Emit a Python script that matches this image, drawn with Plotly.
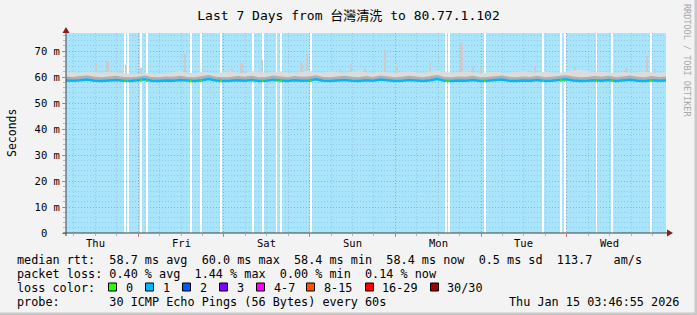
import pandas as pd
import plotly.graph_objects as go

# ---------------- data ----------------
start = pd.Timestamp("2026-01-08 03:46:55")
end = pd.Timestamp("2026-01-15 03:46:55")

# 2-hour samples over the 7 days
sample_times = pd.date_range(start, periods=85, freq="2h")

rtt_median = [58.7, 58.6, 58.8, 59.1, 58.6, 58.5, 58.7, 58.9, 58.6, 58.5,
              58.8, 59.2, 58.6, 58.5, 58.7, 58.6, 58.9, 58.6, 58.5, 58.8,
              59.3, 58.7, 58.5, 58.6, 58.8, 58.6, 58.9, 58.5, 58.6, 59.0,
              58.7, 58.5, 58.8, 58.6, 58.7, 59.2, 58.6, 58.5, 58.7, 58.9,
              58.6, 58.5, 58.8, 58.6, 59.1, 58.7, 58.5, 58.6, 58.9, 58.7,
              58.5, 58.8, 59.3, 58.6, 58.5, 58.7, 58.6, 58.9, 58.5, 58.6,
              58.8, 59.1, 58.6, 58.5, 58.7, 58.6, 58.9, 58.5, 58.6, 58.8,
              59.2, 58.7, 58.5, 58.6, 58.8, 58.6, 58.9, 58.5, 58.7, 59.0,
              58.6, 58.5, 58.8, 58.6, 58.7]

smoke_dark = [60.3, 60.1, 60.4, 60.6, 60.2, 60.0, 60.3, 60.5, 60.1, 60.0,
              60.2, 60.6, 60.1, 60.0, 60.3, 60.2, 60.5, 60.1, 60.0, 60.4,
              60.8, 60.2, 60.0, 60.1, 60.4, 60.2, 60.5, 60.0, 60.1, 60.6,
              60.3, 60.0, 60.4, 60.2, 60.3, 60.7, 60.1, 60.0, 60.3, 60.5,
              60.2, 60.0, 60.4, 60.1, 60.6, 60.3, 60.0, 60.2, 60.5, 60.3,
              60.0, 60.4, 60.8, 60.1, 60.0, 60.3, 60.2, 60.5, 60.0, 60.1,
              60.4, 60.6, 60.2, 60.0, 60.3, 60.1, 60.5, 60.0, 60.2, 60.4,
              60.7, 60.3, 60.0, 60.1, 60.4, 60.2, 60.5, 60.0, 60.3, 60.6,
              60.2, 60.0, 60.4, 60.1, 60.3]

smoke_top = [61.8, 62.0, 61.6, 62.2, 61.9, 61.5, 62.1, 61.8, 61.4, 61.2,
             61.0, 61.5, 61.3, 61.1, 61.6, 61.9, 62.3, 61.7, 61.5, 62.0,
             61.8, 61.4, 61.9, 62.2, 61.6, 61.5, 62.4, 62.0, 61.7, 61.9,
             62.3, 61.8, 61.6, 62.1, 62.5, 61.9, 61.7, 62.2, 61.8, 61.6,
             62.0, 62.4, 61.9, 61.7, 62.1, 61.8, 61.5, 62.0, 62.3, 61.8,
             61.6, 62.2, 62.6, 62.0, 61.7, 61.9, 62.2, 61.8, 61.5, 61.9,
             62.1, 61.7, 61.6, 62.0, 62.3, 61.9, 61.7, 62.1, 61.8, 61.6,
             62.2, 62.5, 62.8, 62.4, 61.9, 62.1, 61.8, 61.6, 62.0, 61.7,
             61.9, 62.2, 61.8, 61.6, 61.9]

# isolated smoke spikes (hours after start, top value in ms)
spike_hours = [2.5, 8.4, 11.7, 15.1, 16.8, 21.0, 33.3, 46.5, 49.2, 54.9,
               66.0, 67.5, 76.7, 79.8, 83.7, 89.3, 92.6, 101.9, 110.8, 114.0,
               116.2, 131.3, 141.1, 142.5, 157.0, 162.8, 164.9]
spike_top = [62.3, 65.5, 66.1, 62.9, 64.5, 63.5, 68.8, 63.5, 65.5, 66.5,
             65.3, 69.0, 63.2, 65.0, 63.7, 70.5, 64.2, 65.5, 73.0, 64.2,
             63.5, 64.2, 62.5, 64.0, 63.6, 68.1, 63.0]

# periods with zero packet loss (hours after start, duration in hours, median rtt)
zero_loss_start_h = [16.24, 17.08, 20.72, 22.40, 34.72, 37.52, 43.12, 52.28,
                     54.88, 58.80, 59.92, 68.32, 106.32, 107.04, 117.04,
                     133.48, 138.32, 139.44, 148.40, 152.80, 163.52]
zero_loss_width_h = [0.42, 0.36, 0.56, 0.56, 0.48, 0.56, 0.56, 0.36,
                     0.36, 0.28, 0.48, 0.48, 0.45, 0.28, 0.48,
                     0.36, 0.64, 0.42, 0.28, 0.36, 0.64]
zero_loss_rtt = [58.6, 58.6, 58.7, 58.6, 58.5, 58.6, 58.6, 58.5,
                 58.6, 58.6, 58.5, 58.6, 58.7, 58.6, 58.6,
                 58.6, 58.7, 58.6, 58.6, 58.6, 58.6]

days = ["Thu", "Fri", "Sat", "Sun", "Mon", "Tue", "Wed"]
day_noons = pd.date_range("2026-01-08 12:00", periods=7, freq="D")
midnights = pd.date_range("2026-01-09 00:00", periods=6, freq="D")

y_tick_vals = [0, 10, 20, 30, 40, 50, 60, 70]
y_tick_text = ["0  ", "10 m", "20 m", "30 m", "40 m", "50 m", "60 m", "70 m"]
y_top = 77

loss_labels = ["0", "1", "2", "3", "4-7", "8-15", "16-29", "30/30"]
loss_colors = ["#26ff00", "#00b8ff", "#0059ff", "#7e00ff", "#ff00ff", "#ff5500", "#ff0000", "#a10000"]

legend_lines = [
    "median rtt:  58.7 ms avg  60.0 ms max  58.4 ms min  58.4 ms now  0.5 ms sd  113.7   am/s",
    "packet loss: 0.40 % avg  1.44 % max  0.00 % min  0.14 % now",
    "loss color:",
    "probe:       30 ICMP Echo Pings (56 Bytes) every 60s",
]
stamp = "Thu Jan 15 03:46:55 2026"
title = "Last 7 Days from 台灣清洗 to 80.77.1.102"

# ---------------- layout helpers ----------------
L, R, T, B = 66, 666, 33, 233
W, H = 697, 315


def px(x):
    return (x - L) / (R - L)


def py(y):
    return (B - y) / (B - T)


def nb(s):
    return s.replace(" ", "\u00a0")


MONO = "DejaVu Sans Mono"
BLUE_BG = "#a8e4fb"

fig = go.Figure()

# zero-loss periods: background is white there
gap_x = [start + pd.Timedelta(hours=h + w / 2) for h, w in zip(zero_loss_start_h, zero_loss_width_h)]
gap_w = [w * 3600 * 1000 for w in zero_loss_width_h]
fig.add_trace(go.Bar(x=gap_x, y=[y_top] * len(gap_x), width=gap_w, base=0,
                     marker=dict(color="white", line=dict(width=0)), hoverinfo="skip"))

# smoke: light band
fig.add_trace(go.Scatter(x=sample_times, y=rtt_median, mode="lines",
                         line=dict(width=0, color="rgba(0,0,0,0)"), hoverinfo="skip"))
fig.add_trace(go.Scatter(x=sample_times, y=smoke_top, mode="lines", fill="tonexty",
                         fillcolor="#dcdcdc", line=dict(width=0, color="#dcdcdc"), hoverinfo="skip"))
# smoke: darker band
fig.add_trace(go.Scatter(x=sample_times, y=rtt_median, mode="lines",
                         line=dict(width=0, color="rgba(0,0,0,0)"), hoverinfo="skip"))
fig.add_trace(go.Scatter(x=sample_times, y=smoke_dark, mode="lines", fill="tonexty",
                         fillcolor="#b0b0b0", line=dict(width=0, color="#b0b0b0"), hoverinfo="skip"))

# spikes
spike_x = [start + pd.Timedelta(hours=h) for h in spike_hours]
fig.add_trace(go.Bar(x=spike_x, y=[v - 60.5 for v in spike_top], base=60.5,
                     width=0.5 * 3600 * 1000,
                     marker=dict(color="#cbcbcb", line=dict(width=0)), hoverinfo="skip"))

# median line (loss 1 colour)
fig.add_trace(go.Scatter(x=sample_times, y=rtt_median, mode="lines",
                         line=dict(width=2.5, color=loss_colors[1]), hoverinfo="skip"))

# median segments with zero loss (green)
gx, gy = [], []
for h, w, v in zip(zero_loss_start_h, zero_loss_width_h, zero_loss_rtt):
    gx += [start + pd.Timedelta(hours=h), start + pd.Timedelta(hours=h + w), None]
    gy += [v, v, None]
fig.add_trace(go.Scatter(x=gx, y=gy, mode="lines",
                         line=dict(width=2.5, color=loss_colors[0]), hoverinfo="skip"))

MGRID = "rgba(220,60,90,0.28)"
GRID = "rgba(110,120,140,0.25)"

fig.update_layout(
    width=W, height=H,
    margin=dict(l=L, r=W - R, t=T, b=H - B),
    paper_bgcolor="#f3f3f3",
    plot_bgcolor=BLUE_BG,
    showlegend=False,
    barmode="overlay",
    bargap=0,
    font=dict(family=MONO, size=11, color="#000"),
    title=dict(text=title, x=0.5, xanchor="center", y=1 - 15 / H, yanchor="middle",
               font=dict(family=MONO + ", Noto Sans CJK TC", size=13, color="#000")),
    xaxis=dict(
        type="date", range=[start, end], showline=False, zeroline=False,
        tickvals=list(midnights), ticktext=[""] * len(midnights),
        showgrid=True, gridcolor=MGRID, griddash="1px,2px", gridwidth=1,
        ticks="outside", ticklen=3, tickcolor="rgba(220,60,80,0.6)",
        minor=dict(tick0="2026-01-08 00:00", dtick=6 * 3600 * 1000, showgrid=True,
                   gridcolor=GRID, griddash="1px,2px", gridwidth=1,
                   ticks="outside", ticklen=2, tickcolor="rgba(120,120,120,0.5)"),
    ),
    yaxis=dict(
        range=[0, y_top], showline=False, zeroline=False,
        tickvals=y_tick_vals, ticktext=[nb(t) for t in y_tick_text],
        tickfont=dict(family=MONO, size=10.5, color="#000"),
        showgrid=True, gridcolor=MGRID, griddash="1px,2px", gridwidth=1,
        ticks="outside", ticklen=3, tickcolor="rgba(220,60,80,0.6)",
        minor=dict(dtick=2, showgrid=True, gridcolor=GRID, griddash="1px,2px", gridwidth=1,
                   ticks="outside", ticklen=2, tickcolor="rgba(120,120,120,0.5)"),
    ),
)

shapes = []
# axes lines
shapes.append(dict(type="line", xref="paper", yref="paper", x0=px(63), x1=px(668), y0=0, y1=0,
                   line=dict(color="#404040", width=1), layer="above"))
shapes.append(dict(type="line", xref="paper", yref="paper", x0=0, x1=0, y0=py(236), y1=py(31),
                   line=dict(color="#404040", width=1), layer="above"))
# arrows
ARW = "#8e1a1a"
shapes.append(dict(type="path", xref="paper", yref="paper",
                   path=f"M {px(667)} {py(229.5)} L {px(673)} {py(233)} L {px(667)} {py(236.5)} Z",
                   fillcolor=ARW, line=dict(color=ARW, width=0), layer="above"))
shapes.append(dict(type="path", xref="paper", yref="paper",
                   path=f"M {px(62.5)} {py(33)} L {px(66)} {py(27)} L {px(69.5)} {py(33)} Z",
                   fillcolor=ARW, line=dict(color=ARW, width=0), layer="above"))
# 3D frame of the canvas
shapes.append(dict(type="rect", xref="paper", yref="paper", x0=px(694.5), x1=px(697), y0=py(0), y1=py(315),
                   fillcolor="#c8c8c8", line=dict(width=0), layer="above"))
shapes.append(dict(type="rect", xref="paper", yref="paper", x0=px(0), x1=px(697), y0=py(312.5), y1=py(315),
                   fillcolor="#c8c8c8", line=dict(width=0), layer="above"))

# loss colour boxes
box_x = [108.5, 145.5, 182.5, 219.5, 256.5, 306.5, 365.5, 430.5]
lab_x = [123.5, 160.5, 197.5, 234.5, 271.5, 321.5, 380.0, 444.5]
for bx, col in zip(box_x, loss_colors):
    shapes.append(dict(type="rect", xref="paper", yref="paper",
                       x0=px(bx), x1=px(bx + 8), y0=py(283), y1=py(291),
                       fillcolor=col, line=dict(color="#000", width=1), layer="above"))
fig.update_layout(shapes=shapes)

ann = []
for d, t in zip(days, day_noons):
    ann.append(dict(x=t, y=py(242.5), xref="x", yref="paper", text=d, showarrow=False,
                    xanchor="center", yanchor="middle", font=dict(family=MONO, size=10.5, color="#000")))
ann.append(dict(x=px(12), y=py(133), xref="paper", yref="paper", text="Seconds", textangle=-90,
                showarrow=False, xanchor="center", yanchor="middle",
                font=dict(family=MONO, size=11.5, color="#000")))
ann.append(dict(x=px(687), y=py(60), xref="paper", yref="paper", text=nb("RRDTOOL / TOBI OETIKER"),
                textangle=90, showarrow=False, xanchor="center", yanchor="middle",
                font=dict(family=MONO, size=8.5, color="#a8a8a8")))
line_y = [259.5, 273.5, 287.5, 301.5]
for txt, yy in zip(legend_lines, line_y):
    ann.append(dict(x=px(15), y=py(yy), xref="paper", yref="paper", text=nb(txt), showarrow=False,
                    xanchor="left", yanchor="middle", align="left",
                    font=dict(family=MONO, size=11.8, color="#000")))
for lx, lab in zip(lab_x, loss_labels):
    ann.append(dict(x=px(lx), y=py(287.5), xref="paper", yref="paper", text=lab, showarrow=False,
                    xanchor="left", yanchor="middle", font=dict(family=MONO, size=11.8, color="#000")))
ann.append(dict(x=px(681), y=py(301.5), xref="paper", yref="paper", text=nb(stamp), showarrow=False,
                xanchor="right", yanchor="middle", font=dict(family=MONO, size=11.8, color="#000")))
fig.update_layout(annotations=ann)

fig.write_html("out.html")
